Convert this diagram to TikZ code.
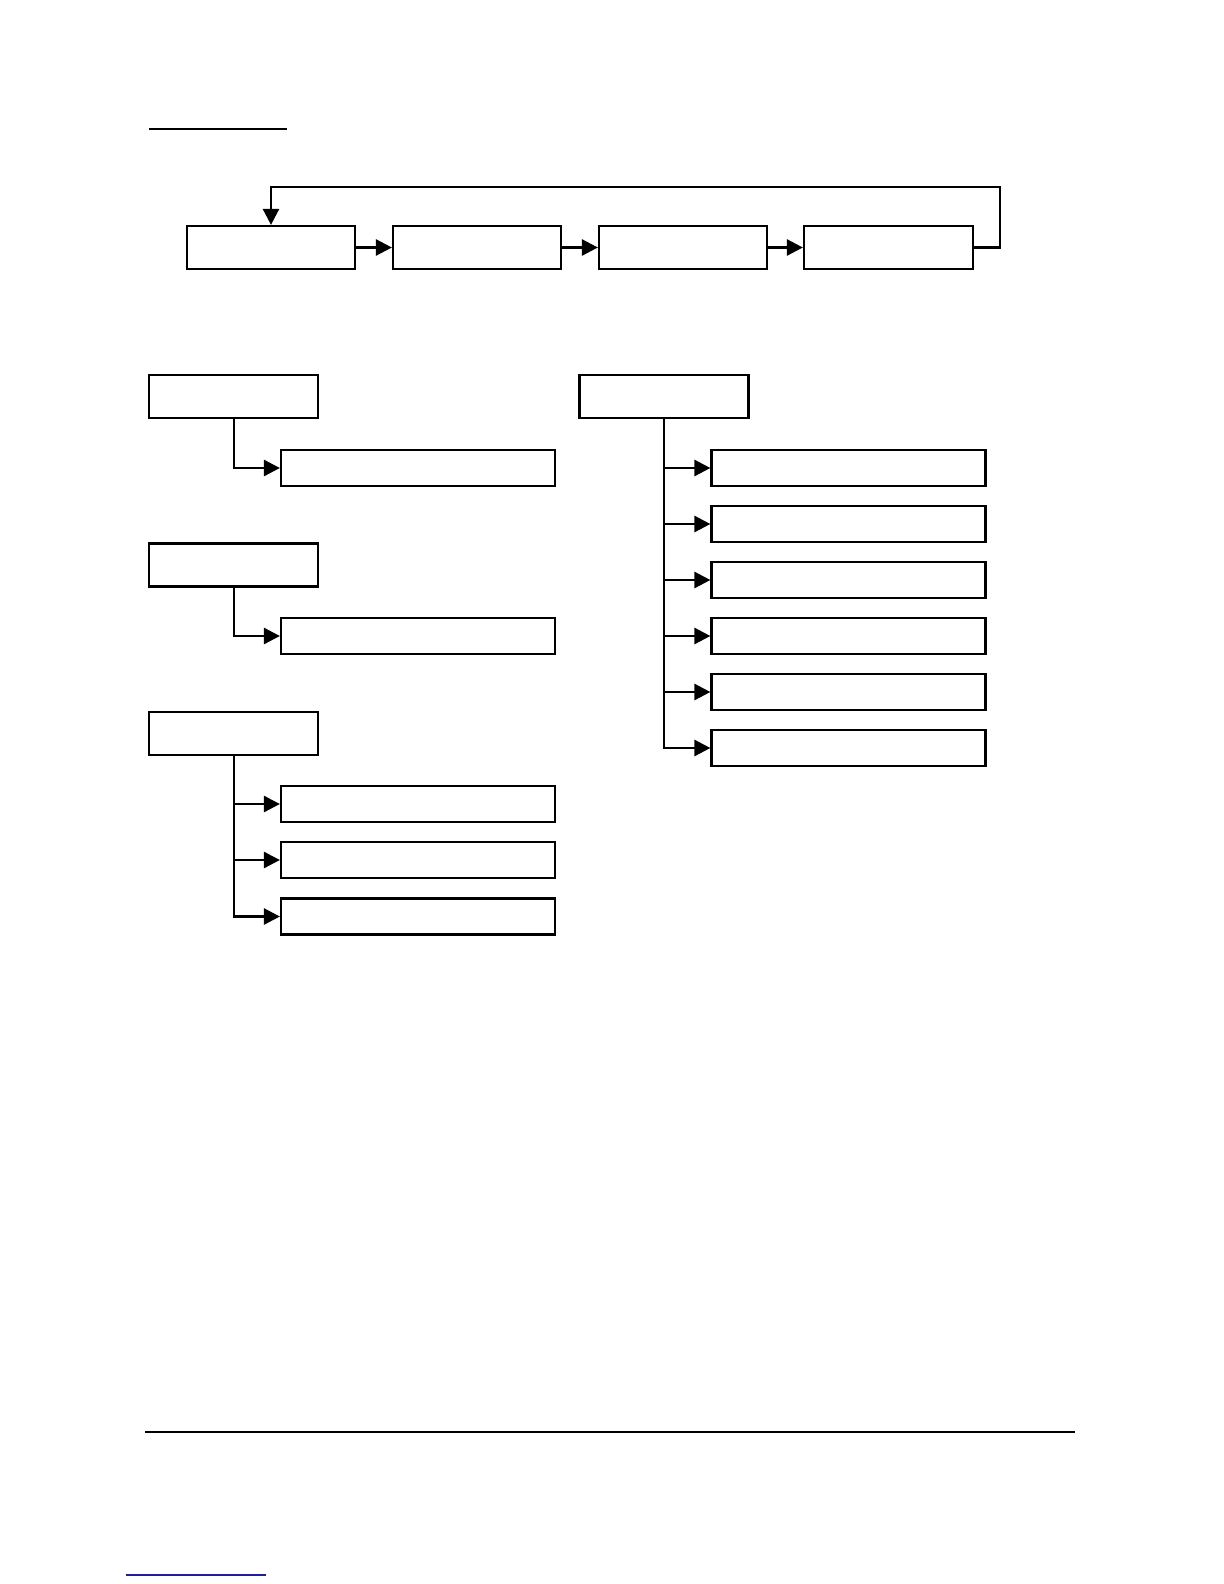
\documentclass[tikz,border=0pt]{standalone}
\usetikzlibrary{arrows.meta}
\definecolor{linkblue}{RGB}{30,30,160}
\tikzset{
  box/.style={draw=black,line width=1.1pt,fill=white,inner sep=0pt},
  conn/.style={draw=black,line width=1.3pt,-{Triangle[length=8pt,width=8pt]}},
  par/.style={box,minimum width=84.5pt,minimum height=21.5pt},
  chl/.style={box,minimum width=137pt,minimum height=18pt},
  topbox/.style={box,minimum width=84pt,minimum height=21.5pt}}
\begin{document}
\begin{tikzpicture}[x=0.5pt,y=-0.5pt]
\fill[white] (0,0) rectangle (1224,1584);
\useasboundingbox (0,0) rectangle (1224,1584);
% title underline
\draw[line width=1.2pt] (149,129) -- (287,129);
% top chain
\node[topbox] (t1) at (271,247.5) {};
\node[topbox] (t2) at (477,247.5) {};
\node[topbox] (t3) at (683,247.5) {};
\node[topbox,minimum width=84.5pt] (t4) at (888.5,247.5) {};
\draw[conn] (t1.east) -- (t2.west);
\draw[conn] (t2.east) -- (t3.west);
\draw[conn] (t3.east) -- (t4.west);
\coordinate (fbR) at (1000,187);
\draw[conn] (t4.east) -| (fbR) -| (t1.north);
% left group 1
\node[par] (a) at (233.5,396.5) {};
\node[chl] (a1) at (418,468) {};
\coordinate (aS) at (234,418);
\draw[conn] (aS) |- (a1.west);
% left group 2
\node[par] (b) at (233.5,565) {};
\node[chl] (b1) at (418,636) {};
\coordinate (bS) at (234,587);
\draw[conn] (bS) |- (b1.west);
% left group 3
\node[par] (c) at (233.5,733.5) {};
\node[chl] (c1) at (418,804) {};
\node[chl] (c2) at (418,860) {};
\node[chl] (c3) at (418,916.5) {};
\coordinate (cS) at (234,755);
\draw[conn] (cS) |- (c1.west);
\draw[conn] (cS) |- (c2.west);
\draw[conn] (cS) |- (c3.west);
% right group
\node[par] (d) at (664,396.5) {};
\node[chl] (d1) at (848.5,468) {};
\node[chl] (d2) at (848.5,524) {};
\node[chl] (d3) at (848.5,580) {};
\node[chl] (d4) at (848.5,636) {};
\node[chl] (d5) at (848.5,692) {};
\node[chl] (d6) at (848.5,748) {};
\draw[conn] (d.south) |- (d1.west);
\draw[conn] (d.south) |- (d2.west);
\draw[conn] (d.south) |- (d3.west);
\draw[conn] (d.south) |- (d4.west);
\draw[conn] (d.south) |- (d5.west);
\draw[conn] (d.south) |- (d6.west);
% footer line
\draw[line width=1.3pt] (145,1432) -- (1075,1432);
\draw[linkblue,line width=0.6pt] (126,1575) -- (266,1575);
\end{tikzpicture}
\end{document}
